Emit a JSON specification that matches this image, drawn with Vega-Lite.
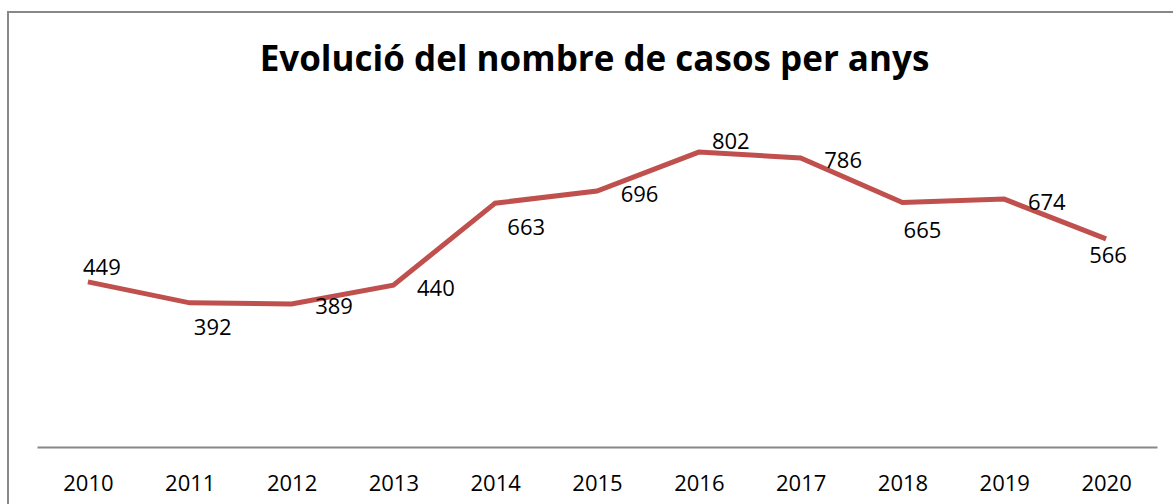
{
  "$schema": "https://vega.github.io/schema/vega-lite/v6.json",
  "autosize": "none",
  "padding": {"left": 8, "top": 12, "right": -3, "bottom": -3},
  "width": 1168,
  "height": 495,
  "background": "white",
  "title": {
    "text": "Evolució del nombre de casos per anys",
    "font": "Open Sans",
    "fontSize": 35,
    "fontWeight": "bold",
    "color": "black",
    "anchor": "middle",
    "frame": "group",
    "baseline": "alphabetic",
    "offset": 0,
    "dy": 94,
    "dx": 2.5
  },
  "data": {
    "values": [
      {"year": "2010", "cases": 449},
      {"year": "2011", "cases": 392},
      {"year": "2012", "cases": 389},
      {"year": "2013", "cases": 440},
      {"year": "2014", "cases": 663},
      {"year": "2015", "cases": 696},
      {"year": "2016", "cases": 802},
      {"year": "2017", "cases": 786},
      {"year": "2018", "cases": 665},
      {"year": "2019", "cases": 674},
      {"year": "2020", "cases": 566}
    ]
  },
  "encoding": {
    "x": {
      "field": "year",
      "type": "ordinal",
      "sort": null,
      "scale": {"type": "point", "padding": 0.5, "range": [29, 1149]},
      "axis": {
        "title": null,
        "orient": "bottom",
        "offset": -60,
        "labelAngle": 0,
        "labelFont": "Open Sans",
        "labelFontSize": 22,
        "labelColor": "black",
        "labelBaseline": "middle",
        "labelPadding": 36,
        "ticks": false,
        "grid": false,
        "domainColor": "#888888",
        "domainWidth": 2
      }
    },
    "y": {
      "field": "cases",
      "type": "quantitative",
      "scale": {"domain": [0, 900], "range": [435, 104], "nice": false, "zero": true},
      "axis": null
    }
  },
  "layer": [
    {
      "mark": {"type": "line", "color": "#C0504D", "strokeWidth": 5}
    },
    {
      "transform": [{"filter": "indexof(['2012','2013','2015','2017','2019'], datum.year) >= 0"}],
      "mark": {"type": "text", "font": "Open Sans", "fontSize": 22, "color": "black", "align": "center", "baseline": "middle", "dx": 42.5, "dy": 3.5},
      "encoding": {"text": {"field": "cases", "type": "quantitative"}}
    },
    {
      "transform": [{"filter": "datum.year == '2010'"}],
      "mark": {"type": "text", "font": "Open Sans", "fontSize": 22, "color": "black", "align": "center", "baseline": "middle", "dx": 14, "dy": -14},
      "encoding": {"text": {"field": "cases", "type": "quantitative"}}
    },
    {
      "transform": [{"filter": "datum.year == '2011'"}],
      "mark": {"type": "text", "font": "Open Sans", "fontSize": 22, "color": "black", "align": "center", "baseline": "middle", "dx": 23, "dy": 25},
      "encoding": {"text": {"field": "cases", "type": "quantitative"}}
    },
    {
      "transform": [{"filter": "datum.year == '2014'"}],
      "mark": {"type": "text", "font": "Open Sans", "fontSize": 22, "color": "black", "align": "center", "baseline": "middle", "dx": 31, "dy": 25},
      "encoding": {"text": {"field": "cases", "type": "quantitative"}}
    },
    {
      "transform": [{"filter": "datum.year == '2016'"}],
      "mark": {"type": "text", "font": "Open Sans", "fontSize": 22, "color": "black", "align": "center", "baseline": "middle", "dx": 32, "dy": -10},
      "encoding": {"text": {"field": "cases", "type": "quantitative"}}
    },
    {
      "transform": [{"filter": "datum.year == '2018'"}],
      "mark": {"type": "text", "font": "Open Sans", "fontSize": 22, "color": "black", "align": "center", "baseline": "middle", "dx": 20, "dy": 29},
      "encoding": {"text": {"field": "cases", "type": "quantitative"}}
    },
    {
      "transform": [{"filter": "datum.year == '2020'"}],
      "mark": {"type": "text", "font": "Open Sans", "fontSize": 22, "color": "black", "align": "center", "baseline": "middle", "dx": 2, "dy": 17},
      "encoding": {"text": {"field": "cases", "type": "quantitative"}}
    }
  ],
  "config": {
    "view": {"stroke": "#888888", "strokeWidth": 2},
    "axis": {"labelFont": "Open Sans"}
  }
}
